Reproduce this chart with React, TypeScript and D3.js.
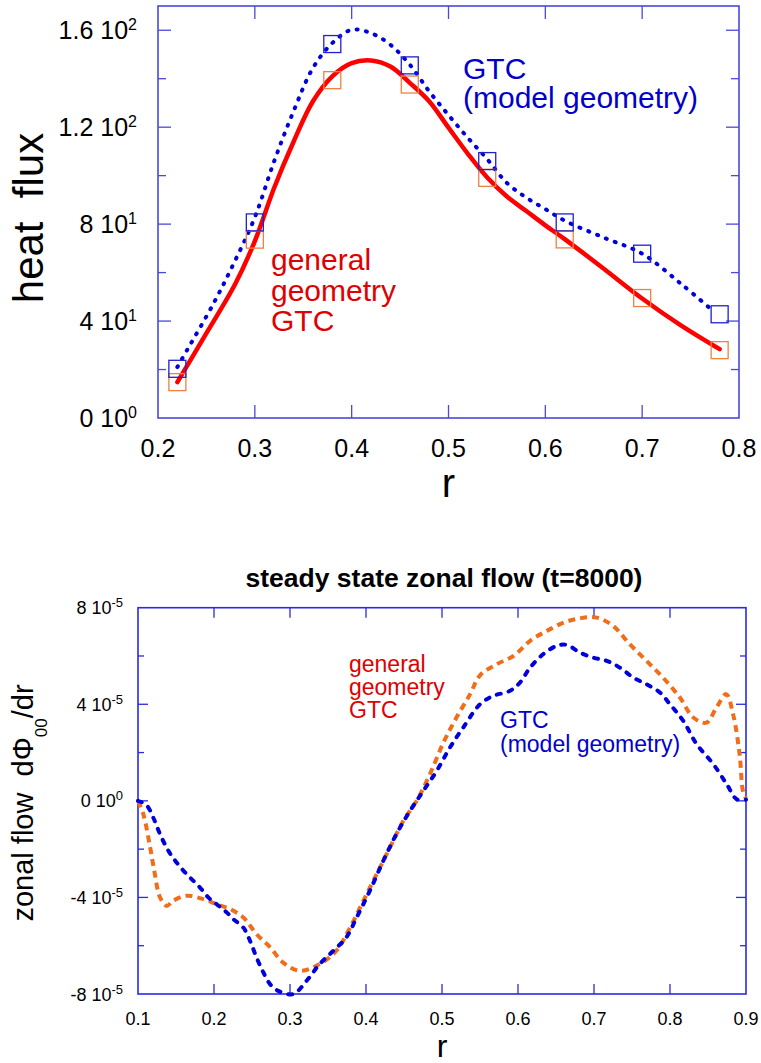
import * as d3 from 'd3'

const FONT = '"Liberation Sans", Arial, Helvetica, sans-serif'

// ---- heat flux panel (top) ----
const squareR = [0.22, 0.3, 0.38, 0.46, 0.54, 0.62, 0.7, 0.78]
const squareModel = [20.3, 80.7, 154.3, 145.5, 106, 80.7, 67.8, 42.8]
const squareGeneral = [14.8, 73.6, 139.4, 137.6, 99.1, 73.7, 49.5, 28]

const fluxModelR = [
  0.22, 0.23, 0.257, 0.278, 0.3, 0.32, 0.34, 0.36, 0.38, 0.4, 0.42, 0.44, 0.46,
  0.48, 0.5, 0.52, 0.54, 0.56, 0.58, 0.6, 0.62, 0.66, 0.7, 0.74, 0.77,
]
const fluxModel = [
  21, 28, 47, 63.6, 82.8, 106, 126.6, 144.4, 154.7, 160.2, 158.8, 154, 145.8,
  134.8, 125, 115.6, 106.8, 97.1, 91, 86.2, 81.4, 74.5, 67.8, 55.4, 45.3,
]

const fluxGeneralR = [
  0.22, 0.25, 0.28, 0.3, 0.32, 0.34, 0.36, 0.38, 0.4, 0.42, 0.44, 0.46, 0.48,
  0.5, 0.52, 0.54, 0.56, 0.58, 0.6, 0.62, 0.66, 0.7, 0.74, 0.78,
]
const fluxGeneral = [
  14.8, 35, 55.5, 73, 95, 114, 130.7, 141, 146.4, 147.5, 145, 138.3, 130.7,
  119.8, 109, 99.2, 91.5, 85.5, 79.5, 73.8, 61.7, 49.3, 38.2, 28.4,
]

const fluxXTicks = [0.2, 0.3, 0.4, 0.5, 0.6, 0.7, 0.8]
const fluxYTicks = [0, 40, 80, 120, 160]
const fluxYMinor = [20, 60, 100, 140]
const fluxYMant = ['0', '4', '8', '1.2', '1.6']
const fluxYExp = ['0', '1', '1', '2', '2']

// ---- zonal flow panel (bottom), values in units of 1e-5 ----
const zonalGeneralR = [
  0.1, 0.107, 0.116, 0.122, 0.129, 0.138, 0.146, 0.164, 0.186, 0.2035, 0.221,
  0.2386, 0.256, 0.274, 0.291, 0.313, 0.339, 0.361, 0.379, 0.3965, 0.414,
  0.4316, 0.449, 0.4667, 0.484, 0.5017, 0.519, 0.537, 0.55, 0.572, 0.594,
  0.616, 0.638, 0.66, 0.6816, 0.7035, 0.725, 0.747, 0.769, 0.791, 0.813,
  0.8307, 0.848, 0.861, 0.874, 0.883, 0.8916, 0.896, 0.9,
]
const zonalGeneral = [
  0, -0.55, -1.93, -3.0, -4.0, -4.35, -4.14, -3.93, -4.07, -4.28, -4.48,
  -4.83, -5.52, -6.07, -6.7, -7.04, -6.76, -6.21, -5.25, -4.14, -3.04, -1.93,
  -0.83, 0, 1.1, 2.4, 3.45, 4.42, 5.2, 5.66, 6.0, 6.63, 7.04, 7.38, 7.56,
  7.59, 7.25, 6.49, 5.8, 5.1, 4.28, 3.45, 3.24, 3.86, 4.42, 3.59, 1.93, 0.41,
  0.1,
]

const zonalModelR = [
  0.1, 0.111, 0.12, 0.129, 0.14, 0.149, 0.16, 0.1705, 0.1816, 0.1925, 0.2035,
  0.2167, 0.2254, 0.2386, 0.2474, 0.256, 0.265, 0.2737, 0.2846, 0.3044,
  0.3219, 0.339, 0.357, 0.374, 0.3877, 0.405, 0.4228, 0.44, 0.458, 0.4754,
  0.493, 0.5105, 0.528, 0.55, 0.5675, 0.589, 0.6026, 0.616, 0.633, 0.651,
  0.664, 0.6816, 0.699, 0.7167, 0.734, 0.752, 0.769, 0.787, 0.8, 0.8175,
  0.835, 0.857, 0.8746, 0.8877, 0.9,
]
const zonalModel = [
  0, -0.17, -0.69, -1.38, -2.07, -2.48, -2.9, -3.24, -3.59, -4.0, -4.28,
  -4.62, -4.9, -5.25, -5.8, -6.49, -7.11, -7.59, -7.87, -8.0, -7.45, -6.76,
  -6.21, -5.66, -4.83, -3.73, -2.48, -1.38, -0.41, 0.41, 1.24, 2.21, 3.04,
  4.0, 4.35, 4.55, 4.9, 5.52, 6.07, 6.42, 6.46, 6.14, 5.93, 5.8, 5.52, 5.1,
  4.83, 4.48, 4.0, 3.31, 2.35, 1.52, 0.69, 0.07, 0.05,
]

const zonalXTicks = [0.1, 0.2, 0.3, 0.4, 0.5, 0.6, 0.7, 0.8, 0.9]
const zonalYTicks = [-8, -4, 0, 4, 8]
const zonalYMinor = [-6, -2, 2, 6]
const zonalYMant = ['-8', '-4', '0', '4', '8']
const zonalYExp = ['-5', '-5', '0', '-5', '-5']

const modelLabel = ['GTC', '(model geometry)']
const generalLabel = ['general', 'geometry', 'GTC']

const HeatFlux = () => {
  const x = d3.scaleLinear().domain([0.2, 0.8]).range([158, 739])
  const y = d3.scaleLinear().domain([0, 170]).range([418, 6])
  const [x0, x1] = x.range()
  const [y0, y1] = y.range()
  const axis = '#4848dc'

  const line = d3
    .line<[number, number]>()
    .x((d) => x(d[0]))
    .y((d) => y(d[1]))
    .curve(d3.curveCatmullRom)

  const model = fluxModelR.map((r, i) => [r, fluxModel[i]] as [number, number])
  const general = fluxGeneralR.map(
    (r, i) => [r, fluxGeneral[i]] as [number, number]
  )
  const sq = 17

  return (
    <g fontFamily={FONT}>
      <rect
        x={x0}
        y={y1}
        width={x1 - x0}
        height={y0 - y1}
        fill="none"
        stroke={axis}
        strokeWidth={1.6}
      />
      {fluxXTicks.slice(1, -1).map((t) => (
        <g key={t} stroke={axis} strokeWidth={1.3}>
          <line x1={x(t)} x2={x(t)} y1={y0} y2={y0 - 13} />
          <line x1={x(t)} x2={x(t)} y1={y1} y2={y1 + 13} />
        </g>
      ))}
      {fluxYTicks.slice(1).map((t) => (
        <g key={t} stroke={axis} strokeWidth={1.3}>
          <line x1={x0} x2={x0 + 13} y1={y(t)} y2={y(t)} />
          <line x1={x1} x2={x1 - 13} y1={y(t)} y2={y(t)} />
        </g>
      ))}
      {fluxYMinor.map((t) => (
        <g key={t} stroke={axis} strokeWidth={1.3}>
          <line x1={x0} x2={x0 + 8} y1={y(t)} y2={y(t)} />
          <line x1={x1} x2={x1 - 8} y1={y(t)} y2={y(t)} />
        </g>
      ))}

      {fluxXTicks.map((t) => (
        <text key={t} x={x(t)} y={457} fontSize={25} textAnchor="middle">
          {d3.format('.1f')(t)}
        </text>
      ))}
      {fluxYTicks.map((t, i) => (
        <text key={t} x={137} y={y(t) + 9} fontSize={25} textAnchor="end">
          {fluxYMant[i]} 10
          <tspan fontSize={16} dy={-9}>
            {fluxYExp[i]}
          </tspan>
        </text>
      ))}

      <text x={(x0 + x1) / 2} y={497} fontSize={40} textAnchor="middle">
        r
      </text>
      <text
        transform="translate(43,218) rotate(-90)"
        fontSize={42}
        textAnchor="middle"
        style={{ whiteSpace: 'pre' }}
      >
        heat{'  '}flux
      </text>

      <path
        d={line(general) ?? ''}
        fill="none"
        stroke="#ff0000"
        strokeWidth={4.5}
        strokeLinecap="round"
      />
      <path
        d={line(model) ?? ''}
        fill="none"
        stroke="#0000dd"
        strokeWidth={4}
        strokeDasharray="1,8.5"
        strokeLinecap="round"
      />
      {squareR.map((r, i) => (
        <rect
          key={'g' + r}
          x={x(r) - sq / 2}
          y={y(squareGeneral[i]) - sq / 2}
          width={sq}
          height={sq}
          fill="none"
          stroke="#f08040"
          strokeWidth={1.3}
        />
      ))}
      {squareR.map((r, i) => (
        <rect
          key={'m' + r}
          x={x(r) - sq / 2}
          y={y(squareModel[i]) - sq / 2}
          width={sq}
          height={sq}
          fill="none"
          stroke="#2020d0"
          strokeWidth={1.3}
        />
      ))}

      {modelLabel.map((s, i) => (
        <text key={s} x={463} y={79 + i * 29} fill="#0000cc" fontSize={30}>
          {s}
        </text>
      ))}
      {generalLabel.map((s, i) => (
        <text key={s} x={271} y={270 + i * 30.5} fill="#e00000" fontSize={30}>
          {s}
        </text>
      ))}
    </g>
  )
}

const ZonalFlow = () => {
  const x = d3.scaleLinear().domain([0.1, 0.9]).range([138, 746])
  const y = d3.scaleLinear().domain([-8, 8]).range([994, 607.7])
  const [x0, x1] = x.range()
  const [y0, y1] = y.range()
  const axis = '#2a2ae0'

  const line = d3
    .line<[number, number]>()
    .x((d) => x(d[0]))
    .y((d) => y(d[1]))
    .curve(d3.curveCatmullRom)

  const general = zonalGeneralR.map(
    (r, i) => [r, zonalGeneral[i]] as [number, number]
  )
  const model = zonalModelR.map((r, i) => [r, zonalModel[i]] as [number, number])

  return (
    <g fontFamily={FONT}>
      <text
        x={(x0 + x1) / 2 + 2}
        y={587}
        fontSize={26.5}
        fontWeight="bold"
        textAnchor="middle"
      >
        steady state zonal flow (t=8000)
      </text>
      <rect
        x={x0}
        y={y1}
        width={x1 - x0}
        height={y0 - y1}
        fill="none"
        stroke={axis}
        strokeWidth={1.6}
      />
      {zonalXTicks.slice(1, -1).map((t) => (
        <g key={t} stroke={axis} strokeWidth={1.3}>
          <line x1={x(t)} x2={x(t)} y1={y0} y2={y0 - 10} />
          <line x1={x(t)} x2={x(t)} y1={y1} y2={y1 + 10} />
        </g>
      ))}
      {zonalYTicks.slice(1, -1).map((t) => (
        <g key={t} stroke={axis} strokeWidth={1.3}>
          <line x1={x0} x2={x0 + 10} y1={y(t)} y2={y(t)} />
          <line x1={x1} x2={x1 - 10} y1={y(t)} y2={y(t)} />
        </g>
      ))}
      {zonalYMinor.map((t) => (
        <g key={t} stroke={axis} strokeWidth={1.3}>
          <line x1={x0} x2={x0 + 6} y1={y(t)} y2={y(t)} />
          <line x1={x1} x2={x1 - 6} y1={y(t)} y2={y(t)} />
        </g>
      ))}

      {zonalXTicks.map((t) => (
        <text key={t} x={x(t)} y={1025} fontSize={18} textAnchor="middle">
          {d3.format('.1f')(t)}
        </text>
      ))}
      {zonalYTicks.map((t, i) => (
        <text key={t} x={123} y={y(t) + 6.5} fontSize={18} textAnchor="end">
          {zonalYMant[i]} 10
          <tspan fontSize={13} dy={-7}>
            {zonalYExp[i]}
          </tspan>
        </text>
      ))}

      <text x={(x0 + x1) / 2} y={1057} fontSize={32} textAnchor="middle">
        r
      </text>
      <text
        transform="translate(33,803) rotate(-90)"
        fontSize={29}
        textAnchor="middle"
        style={{ whiteSpace: 'pre' }}
      >
        zonal flow{'  '}dΦ
        <tspan fontSize={17} dy={14}>
          00
        </tspan>
        <tspan dy={-14}>/dr</tspan>
      </text>

      <path
        d={line(general) ?? ''}
        fill="none"
        stroke="#f26d1a"
        strokeWidth={4}
        strokeDasharray="7,5"
      />
      <path
        d={line(model) ?? ''}
        fill="none"
        stroke="#0000dd"
        strokeWidth={4}
        strokeDasharray="4,8"
        strokeLinecap="round"
      />

      {generalLabel.map((s, i) => (
        <text key={s} x={349} y={672 + i * 23} fill="#e00000" fontSize={23}>
          {s}
        </text>
      ))}
      {modelLabel.map((s, i) => (
        <text key={s} x={500} y={728 + i * 24} fill="#0000cc" fontSize={23}>
          {s}
        </text>
      ))}
    </g>
  )
}

export default function App() {
  return (
    <svg
      width={761}
      height={1063}
      style={{ position: 'absolute', left: 0, top: 0, background: '#fff' }}
    >
      <HeatFlux />
      <ZonalFlow />
    </svg>
  )
}
